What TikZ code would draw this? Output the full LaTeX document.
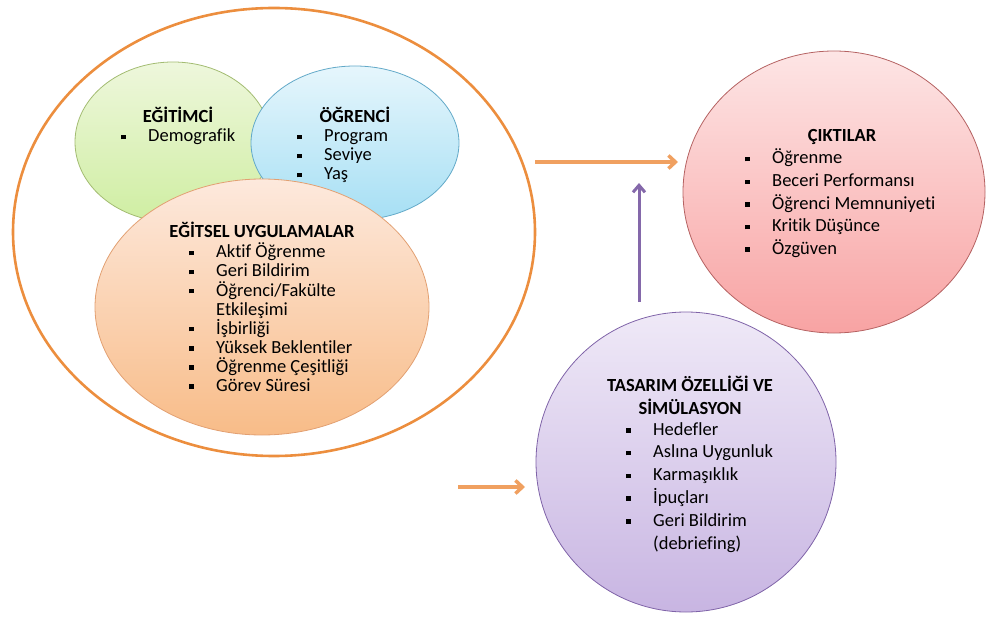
\documentclass[tikz,border=0pt]{standalone}
\usepackage{fontspec}
\setmainfont{Carlito}[Ligatures=NoCommon]
\usetikzlibrary{shapes.geometric,arrows.meta}
\definecolor{outerc}{HTML}{EC8E3E}
\definecolor{grT}{HTML}{EEF7DC}\definecolor{grB}{HTML}{CFEEA2}\definecolor{grD}{HTML}{A3BC72}
\definecolor{blT}{HTML}{E6F6FC}\definecolor{blB}{HTML}{A6DFF4}\definecolor{blD}{HTML}{62A9C8}
\definecolor{orT}{HTML}{FDE9DD}\definecolor{orB}{HTML}{F8BC88}\definecolor{orD}{HTML}{E2A072}
\definecolor{rdT}{HTML}{FDE5E5}\definecolor{rdB}{HTML}{F8A3A3}\definecolor{rdD}{HTML}{B56262}
\definecolor{puT}{HTML}{EFE9F7}\definecolor{puB}{HTML}{C8B5E2}\definecolor{puD}{HTML}{7F63A8}
\definecolor{arrO}{HTML}{F0A060}\definecolor{arrP}{HTML}{8468AA}
\newcommand\bul{\makebox[27pt][l]{\rule[2.5pt]{4.5pt}{4.5pt}}}
\tikzset{
  blob/.style={ellipse, draw, line width=0.8pt, inner sep=0pt},
  head/.style={font=\fontsize{18.5}{20}\selectfont\bfseries, anchor=base, inner sep=0pt},
  item/.style={font=\fontsize{18.5}{20}\selectfont, anchor=base west, inner sep=0pt},
  oarrow/.style={draw=arrO, line width=3.5pt, -{Straight Barb[length=7pt,width=13pt]}},
  parrow/.style={draw=arrP, line width=3pt, -{Straight Barb[length=7pt,width=12pt]}}
}
\begin{document}
\begin{tikzpicture}[x=1pt,y=-1pt]
\useasboundingbox (0,0) rectangle (992,617);
% outer ellipse
\node[ellipse, draw=outerc, line width=2.6pt, minimum width=522pt, minimum height=448pt, inner sep=0pt] (outer) at (274,232) {};
% inner ellipses
\node[blob, draw=grD, top color=grT, bottom color=grB, minimum width=196pt, minimum height=160pt] (egit) at (173,142) {};
\node[blob, draw=blD, top color=blT, bottom color=blB, minimum width=208pt, minimum height=154pt] (ogr) at (355,143) {};
\node[blob, draw=orD, top color=orT, bottom color=orB, minimum width=334pt, minimum height=256pt] (uyg) at (262,307) {};
\node[blob, draw=rdD, top color=rdT, bottom color=rdB, minimum width=302pt, minimum height=282pt] (cikti) at (834,192) {};
\node[blob, draw=puD, top color=puT, bottom color=puB, minimum width=300pt, minimum height=300pt] (tas) at (686,462) {};
% EGITIMCI
\node[head] (h1) at (178,123) {EĞİTİMCİ};
\node[item] (e1) at (121,142) {\bul Demografik};
% OGRENCI
\node[head] (h2) at (355,123) {ÖĞRENCİ};
\foreach \t [count=\i] in {Program,Seviye,Yaş}
  \node[item] (o\i) at (297,142+19*\i-19) {\bul\t};
% EGITSEL UYGULAMALAR
\node[head] (h3) at (262,238) {EĞİTSEL UYGULAMALAR};
\foreach \t [count=\i] in {Aktif Öğrenme,Geri Bildirim,Öğrenci/Fakülte,\hspace*{27pt}Etkileşimi,İşbirliği,Yüksek Beklentiler,Öğrenme Çeşitliği,Görev Süresi}
  \node[item] (u\i) at (189,258+19*\i-19) {\ifnum\i=4 \else\bul\fi\t};
% CIKTILAR
\node[head] (h4) at (842,142) {ÇIKTILAR};
\foreach \t [count=\i] in {Öğrenme,Beceri Performansı,Öğrenci Memnuniyeti,Kritik Düşünce,Özgüven}
  \node[item] (c\i) at (745,164+22.6*\i-22.6) {\bul\t};
% TASARIM
\node[head] (h5) at (690,391) {TASARIM ÖZELLİĞİ VE};
\node[head] (h6) at (690,414) {SİMÜLASYON};
\foreach \t [count=\i] in {Hedefler,Aslına Uygunluk,Karmaşıklık,İpuçları,Geri Bildirim,\hspace*{27pt}(debriefing)}
  \node[item] (t\i) at (626,435+22.8*\i-22.8) {\ifnum\i=6 \else\bul\fi\t};
% arrows
\coordinate (a1s) at (535,162);
\coordinate (a1e) at (678,162);
\coordinate (a2s) at (639,302);
\coordinate (a2e) at (639,183);
\coordinate (a3s) at (458,487);
\coordinate (a3e) at (525,487);
\draw[oarrow] (a1s) -- (a1e);
\draw[parrow] (a2s) -- (a2e);
\draw[oarrow] (a3s) -- (a3e);
\end{tikzpicture}
\end{document}
